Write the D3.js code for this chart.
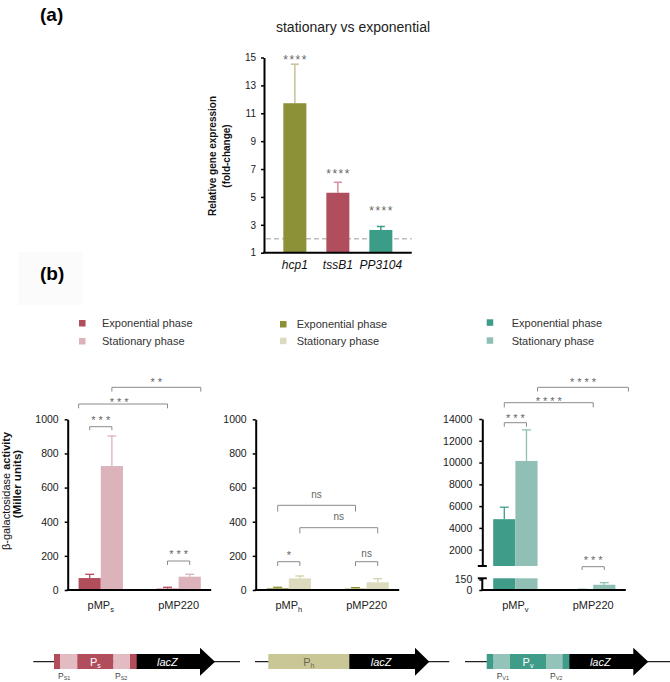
<!DOCTYPE html>
<html><head><meta charset="utf-8">
<script src="https://cdn.jsdelivr.net/npm/d3@7"></script>
<style>body{margin:0;background:#fff} svg{display:block;font-family:"Liberation Sans",Arial,Helvetica,sans-serif}</style>
</head><body><svg id="c" width="670" height="682"></svg>
<script>
// ---------- Panel (a) data ----------
const genesA = ["hcp1", "tssB1", "PP3104"];
const foldChangeA = [11.72, 5.30, 2.63];
const foldErrorA = [2.8, 0.75, 0.25];
const signifA = ["****", "****", "****"];
const signifPosA = [15, 6.86, 4.2];
const yTicksA = [1, 3, 5, 7, 9, 11, 13, 15];
const thresholdA = 2;

// ---------- Panel (b) data ----------
const seriesB = ["exp", "stat"];
const legendLabels = ["Exponential phase", "Stationary phase"];
const catS = [["pMP", "s"], ["pMP220", ""]];
const expS = [70, 8], expErrS = [22, 8], statS = [726, 78], statErrS = [176, 14];
const catH = [["pMP", "h"], ["pMP220", ""]];
const expH = [10, 8], expErrH = [6, 6], statH = [68, 45], statErrH = [14, 21];
const catV = [["pMP", "v"], ["pMP220", ""]];
const expV = [4800, 5], expErrV = [1100, 4], statV = [10150, 75], statErrV = [2850, 30];
const yTicksB = [0, 200, 400, 600, 800, 1000];
const yTicksVUpper = [2000, 4000, 6000, 8000, 10000, 12000, 14000];
const yTicksVLower = [0, 150];

const svg = d3.select("#c");
const fmt = d3.format("d");

function stars(g, x, vc, label, fs, ls, color) {
  g.append("text").attr("x", x + ls / 2).attr("y", vc + 0.57 * fs)
    .attr("text-anchor", "middle").attr("font-size", fs).attr("letter-spacing", ls)
    .attr("fill", color).text(label);
}
function nsText(g, x, vc, label) {
  g.append("text").attr("x", x).attr("y", vc + 0.27 * 10)
    .attr("text-anchor", "middle").attr("font-size", 10).attr("fill", "#666").text(label);
}
function styleAxis(g, fs) {
  g.select(".domain").attr("stroke", "#000").attr("stroke-width", 2);
  g.selectAll(".tick line").attr("stroke", "#000").attr("stroke-width", 1.5);
  g.selectAll(".tick text").attr("font-size", fs).attr("fill", "#1a1a1a")
    .attr("font-family", '"Liberation Sans", Arial, sans-serif');
}

// ---------- Panel (a) ----------
svg.append("text").attr("x", 40).attr("y", 21).attr("font-size", 19).attr("font-weight", "bold").text("(a)");
svg.append("text").attr("x", 353).attr("y", 32).attr("text-anchor", "middle").attr("font-size", 14)
  .attr("fill", "#222").text("stationary vs exponential");

const xA = d3.scaleBand().domain(genesA).range([264, 411.7]).paddingInner(0.465).paddingOuter(0.45);
const yA = d3.scaleLinear().domain([1, 15]).range([252.7, 57.5]);
const colA = ["#8c9036", "#b04e5e", "#3b9c88"];
const errColA = ["#c4c394", "#d98d9b", "#3b9c88"];
const gA = svg.append("g");

gA.append("line").attr("x1", 266).attr("x2", 411.7).attr("y1", yA(thresholdA)).attr("y2", yA(thresholdA))
  .attr("stroke", "#bdbdbd").attr("stroke-width", 1.5).attr("stroke-dasharray", "5,3");

genesA.forEach((gname, i) => {
  const cx = xA(gname) + xA.bandwidth() / 2;
  const top = yA(foldChangeA[i]), et = yA(foldChangeA[i] + foldErrorA[i]);
  gA.append("line").attr("x1", cx).attr("x2", cx).attr("y1", top).attr("y2", et).attr("stroke", errColA[i]).attr("stroke-width", 1.5);
  gA.append("line").attr("x1", cx - 4).attr("x2", cx + 4).attr("y1", et).attr("y2", et).attr("stroke", errColA[i]).attr("stroke-width", 1.5);
});
gA.selectAll("rect.bar").data(genesA).join("rect").attr("class", "bar")
  .attr("x", d => xA(d)).attr("width", xA.bandwidth())
  .attr("y", (d, i) => yA(foldChangeA[i])).attr("height", (d, i) => yA(1) - yA(foldChangeA[i]))
  .attr("fill", (d, i) => colA[i]);
genesA.forEach((gname, i) => {
  stars(gA, xA(gname) + xA.bandwidth() / 2, yA(signifPosA[i]), signifA[i], 12, 1.5, "#666");
  gA.append("text").attr("x", xA(gname) + xA.bandwidth() / 2).attr("y", 269).attr("text-anchor", "middle")
    .attr("font-size", 12).attr("font-style", "italic").attr("fill", "#111").text(gname);
});
const axA = gA.append("g").attr("transform", "translate(264,0)")
  .call(d3.axisLeft(yA).tickValues(yTicksA).tickFormat(fmt).tickSize(3).tickSizeOuter(0).tickPadding(5));
styleAxis(axA, 10);
gA.append("line").attr("x1", 263).attr("x2", 411.7).attr("y1", yA(1)).attr("y2", yA(1)).attr("stroke", "#000").attr("stroke-width", 2);

[["Relative gene expression", 212], ["(fold-change)", 226.7]].forEach(([t, x]) => {
  gA.append("text").attr("transform", `translate(${x},156) rotate(-90)`).attr("text-anchor", "middle")
    .attr("dominant-baseline", "central").attr("font-size", 10).attr("font-weight", "bold").attr("fill", "#111").text(t);
});

// ---------- Panel (b) ----------
svg.append("rect").attr("x", 18).attr("y", 252).attr("width", 65).attr("height", 53).attr("fill", "#fbfbfb");
svg.append("text").attr("x", 40).attr("y", 280).attr("font-size", 19).attr("font-weight", "bold").text("(b)");

const yLab = svg.append("g");
const t1 = yLab.append("text").attr("transform", "translate(5.5,491) rotate(-90)").attr("text-anchor", "middle")
  .attr("dominant-baseline", "central").attr("font-size", 11).attr("fill", "#111");
t1.append("tspan").text("β-galactosidase");
t1.append("tspan").attr("font-weight", "bold").text(" activity");
yLab.append("text").attr("transform", "translate(17,484) rotate(-90)").attr("text-anchor", "middle")
  .attr("dominant-baseline", "central").attr("font-size", 11.5).attr("font-weight", "bold").attr("fill", "#111").text("(Miller units)");

const charts = [
  { x0: 67.7, cats: catS, exp: expS, expErr: expErrS, stat: statS, statErr: statErrS,
    col: { exp: "#b24d5c", stat: "#dcb3ba" }, errCol: { exp: "#b24d5c", stat: "#dcb3ba" },
    legend: { sx: 79, tx: 102, y: [320, 338] }, pad: 6, broken: false,
    brackets: [
      { a: [0, "exp", "c"], b: [0, "stat", "c"], y: 426.7, t: 3.5, label: "***", vc: 417.7 },
      { a: [0, "exp", "l"], b: [1, "exp", "c"], y: 404, t: 4.3, label: "***", vc: 399.5, dx: -4 },
      { a: [0, "stat", "c"], b: [1, "stat", "r"], y: 387.3, t: 4.3, label: "**", vc: 380 },
      { a: [1, "exp", "c"], b: [1, "stat", "c"], y: 561, t: 4, label: "***", vc: 552 }
    ] },
  { x0: 255.7, cats: catH, exp: expH, expErr: expErrH, stat: statH, statErr: statErrH,
    col: { exp: "#8d9033", stat: "#dddbbd" }, errCol: { exp: "#8d9033", stat: "#d3d1ab" },
    legend: { sx: 280, tx: 296.7, y: [321, 337.7] }, pad: 6, broken: false,
    brackets: [
      { a: [0, "exp", "c"], b: [0, "stat", "c"], y: 561.7, t: 4.3, label: "*", vc: 553 },
      { a: [1, "exp", "c"], b: [1, "stat", "c"], y: 561.7, t: 4.3, label: "ns", vc: 554, ns: true },
      { a: [0, "exp", "c"], b: [1, "exp", "c"], y: 505.3, t: 6.3, label: "ns", vc: 495.7, ns: true },
      { a: [0, "stat", "c"], b: [1, "stat", "c"], y: 527.7, t: 5.7, label: "ns", vc: 517, ns: true }
    ] },
  { x0: 482.3, cats: catV, exp: expV, expErr: expErrV, stat: statV, statErr: statErrV,
    col: { exp: "#3f9c89", stat: "#90bfb6" }, errCol: { exp: "#3f9c89", stat: "#90bfb6" },
    legend: { sx: 486.7, tx: 511.7, y: [319.3, 337.3] }, pad: 7, broken: true,
    brackets: [
      { a: [0, "exp", "c"], b: [0, "stat", "c"], y: 422.7, t: 4, label: "***", vc: 415.7 },
      { a: [0, "exp", "c"], b: [1, "exp", "r"], y: 402.7, t: 4.7, label: "****", vc: 398.7 },
      { a: [0, "stat", "r"], b: [1, "stat", "r", 13], y: 387.3, t: 4.3, label: "****", vc: 380 },
      { a: [1, "exp", "c"], b: [1, "stat", "c"], y: 566.7, t: 3.3, label: "***", vc: 557.3 }
    ] }
];

const yB = d3.scaleLinear().domain([0, 1000]).range([590, 419.3]);
const yU = d3.scaleLinear().domain([500, 14000]).range([566, 419]);
const yL = d3.scaleLinear().domain([0, 150]).range([590, 579.5]);
const lowerTop = 578.3;

charts.forEach(ch => {
  const g = svg.append("g");
  const xG = d3.scaleBand().domain([0, 1]).range([ch.x0, ch.x0 + 144]).paddingInner(0.43).paddingOuter(0.14);
  const xS = d3.scaleBand().domain(seriesB).range([0, xG.bandwidth()]);
  const bw = xS.bandwidth();
  const anchor = ([gi, s, pos, off]) => xG(gi) + xS(s) + (pos === "l" ? 0 : pos === "r" ? bw : bw / 2) + (off || 0);

  // legend
  seriesB.forEach((s, i) => {
    g.append("rect").attr("x", ch.legend.sx).attr("y", ch.legend.y[i]).attr("width", 6.5).attr("height", 6.5).attr("fill", ch.col[s]);
    g.append("text").attr("x", ch.legend.tx).attr("y", ch.legend.y[i] + 3.25 + 4).attr("font-size", 11).attr("fill", "#333").text(legendLabels[i]);
  });

  // bars + error bars
  ch.cats.forEach((c, gi) => {
    seriesB.forEach(s => {
      const v = ch[s][gi], e = ch[s + "Err"][gi];
      const x = xG(gi) + xS(s), cx = x + bw / 2;
      let et;
      if (!ch.broken) {
        et = yB(v + e);
        g.append("line").attr("x1", cx).attr("x2", cx).attr("y1", yB(v)).attr("y2", et).attr("stroke", ch.errCol[s]).attr("stroke-width", 1.3);
        g.append("rect").attr("x", x).attr("width", bw).attr("y", yB(v)).attr("height", yB(0) - yB(v)).attr("fill", ch.col[s]);
      } else {
        if (v > 150) {
          et = yU(v + e);
          g.append("line").attr("x1", cx).attr("x2", cx).attr("y1", yU(v)).attr("y2", et).attr("stroke", ch.errCol[s]).attr("stroke-width", 1.3);
          g.append("rect").attr("x", x).attr("width", bw).attr("y", yU(v)).attr("height", yU(500) - yU(v)).attr("fill", ch.col[s]);
          g.append("rect").attr("x", x).attr("width", bw).attr("y", lowerTop).attr("height", yL(0) - lowerTop).attr("fill", ch.col[s]);
        } else {
          et = yL(v + e);
          g.append("line").attr("x1", cx).attr("x2", cx).attr("y1", yL(v)).attr("y2", et).attr("stroke", ch.errCol[s]).attr("stroke-width", 1.3);
          g.append("rect").attr("x", x).attr("width", bw).attr("y", yL(v)).attr("height", yL(0) - yL(v)).attr("fill", ch.col[s]);
        }
      }
      g.append("line").attr("x1", cx - 4.5).attr("x2", cx + 4.5).attr("y1", et).attr("y2", et).attr("stroke", ch.errCol[s]).attr("stroke-width", 1.3);
    });
    // x label
    const lt = g.append("text").attr("x", xG(gi) + xG.bandwidth() / 2).attr("y", 609).attr("text-anchor", "middle")
      .attr("font-size", 11).attr("fill", "#222");
    lt.append("tspan").text(c[0]);
    if (c[1]) lt.append("tspan").attr("font-size", 7.5).attr("dy", 3).text(c[1]);
  });

  // axes
  if (!ch.broken) {
    const ax = g.append("g").attr("transform", `translate(${ch.x0},0)`)
      .call(d3.axisLeft(yB).tickValues(yTicksB).tickFormat(fmt).tickSize(3).tickSizeOuter(0).tickPadding(ch.pad));
    styleAxis(ax, 10.5);
  } else {
    const axU = g.append("g").attr("transform", `translate(${ch.x0},0)`)
      .call(d3.axisLeft(yU).tickValues(yTicksVUpper).tickFormat(fmt).tickSize(3).tickSizeOuter(0).tickPadding(ch.pad));
    styleAxis(axU, 10.5);
    const axL = g.append("g").attr("transform", `translate(${ch.x0},0)`)
      .call(d3.axisLeft(yL).tickValues(yTicksVLower).tickFormat(fmt).tickSize(3).tickSizeOuter(0).tickPadding(ch.pad));
    styleAxis(axL, 10.5);
    axL.select(".domain").remove();
    g.append("line").attr("x1", ch.x0).attr("x2", ch.x0).attr("y1", yL(0)).attr("y2", lowerTop).attr("stroke", "#000").attr("stroke-width", 2);
    [yU(500), lowerTop].forEach(yy => {
      g.append("line").attr("x1", ch.x0 - 4.5).attr("x2", ch.x0 + 4.5).attr("y1", yy).attr("y2", yy).attr("stroke", "#000").attr("stroke-width", 2);
    });
  }
  g.append("line").attr("x1", ch.x0 - 1).attr("x2", ch.x0 + 143.5).attr("y1", 590).attr("y2", 590).attr("stroke", "#000").attr("stroke-width", 2);

  // brackets
  ch.brackets.forEach(b => {
    const xa = anchor(b.a), xb = anchor(b.b);
    g.append("path").attr("d", `M${xa},${b.y + b.t}V${b.y}H${xb}V${b.y + b.t}`)
      .attr("fill", "none").attr("stroke", "#8a8a8a").attr("stroke-width", 1);
    const mx = (xa + xb) / 2 + (b.dx || 0);
    if (b.ns) nsText(g, mx, b.vc, b.label);
    else stars(g, mx, b.vc, b.label, 11, 3, "#666");
  });
});

// ---------- Construct diagrams ----------
const red = "#b24d5c", pink = "#e2bcc2", teal = "#3e9c89", lteal = "#93c3b9", khaki = "#c8c795";
const diagrams = [
  { lineStart: 33.3, boxStart: 54, lineEnd: 240, lacZ: 63.3, head: 15,
    segs: [[6, red], [17.3, pink], [36, red, "s", "#fff"], [16.7, pink], [6.7, red]],
    subLabels: [[58, "S1"], [115, "S2"]] },
  { lineStart: 255, boxStart: 268.3, lineEnd: 449.3, lacZ: 65.7, head: 14.3,
    segs: [[81, khaki, "h", "#6a6a50"]], subLabels: [] },
  { lineStart: 465, boxStart: 486.7, lineEnd: 670, lacZ: 64, head: 15,
    segs: [[6.6, teal], [16.7, lteal], [36, teal, "v", "#fff"], [16.7, lteal], [6.6, teal]],
    subLabels: [[496.7, "V1"], [550, "V2"]] }
];
const dy = 661.7, bTop = 654, bBot = 669, hTop = 647.7, hBot = 675.7;
const gD = svg.append("g");
diagrams.forEach(d => {
  gD.append("line").attr("x1", d.lineStart).attr("x2", d.lineEnd).attr("y1", dy).attr("y2", dy).attr("stroke", "#222").attr("stroke-width", 1.3);
  let x = d.boxStart;
  d.segs.forEach(s => {
    gD.append("rect").attr("x", x).attr("y", bTop).attr("width", s[0] + 0.3).attr("height", bBot - bTop).attr("fill", s[1]);
    if (s[2]) {
      const t = gD.append("text").attr("x", x + s[0] / 2).attr("y", dy + 3.8).attr("text-anchor", "middle")
        .attr("font-size", 11).attr("fill", s[3]);
      t.append("tspan").text("P");
      t.append("tspan").attr("font-size", 7).attr("dy", 2.5).text(s[2]);
    }
    x += s[0];
  });
  const bodyEnd = x + d.lacZ, tip = bodyEnd + d.head;
  gD.append("path").attr("d", `M${x},${bTop}H${bodyEnd}V${hTop}L${tip},${dy}L${bodyEnd},${hBot}V${bBot}H${x}Z`).attr("fill", "#000");
  gD.append("text").attr("x", x + d.lacZ / 2 - 1).attr("y", dy + 3.8).attr("text-anchor", "middle")
    .attr("font-size", 11).attr("font-style", "italic").attr("fill", "#fff").text("lacZ");
  d.subLabels.forEach(([lx, sub]) => {
    const t = gD.append("text").attr("x", lx).attr("y", 678.5).attr("font-size", 8.5).attr("fill", "#444");
    t.append("tspan").text("P");
    t.append("tspan").attr("font-size", 5.5).attr("dy", 1.5).text(sub);
  });
});
</script></body></html>
